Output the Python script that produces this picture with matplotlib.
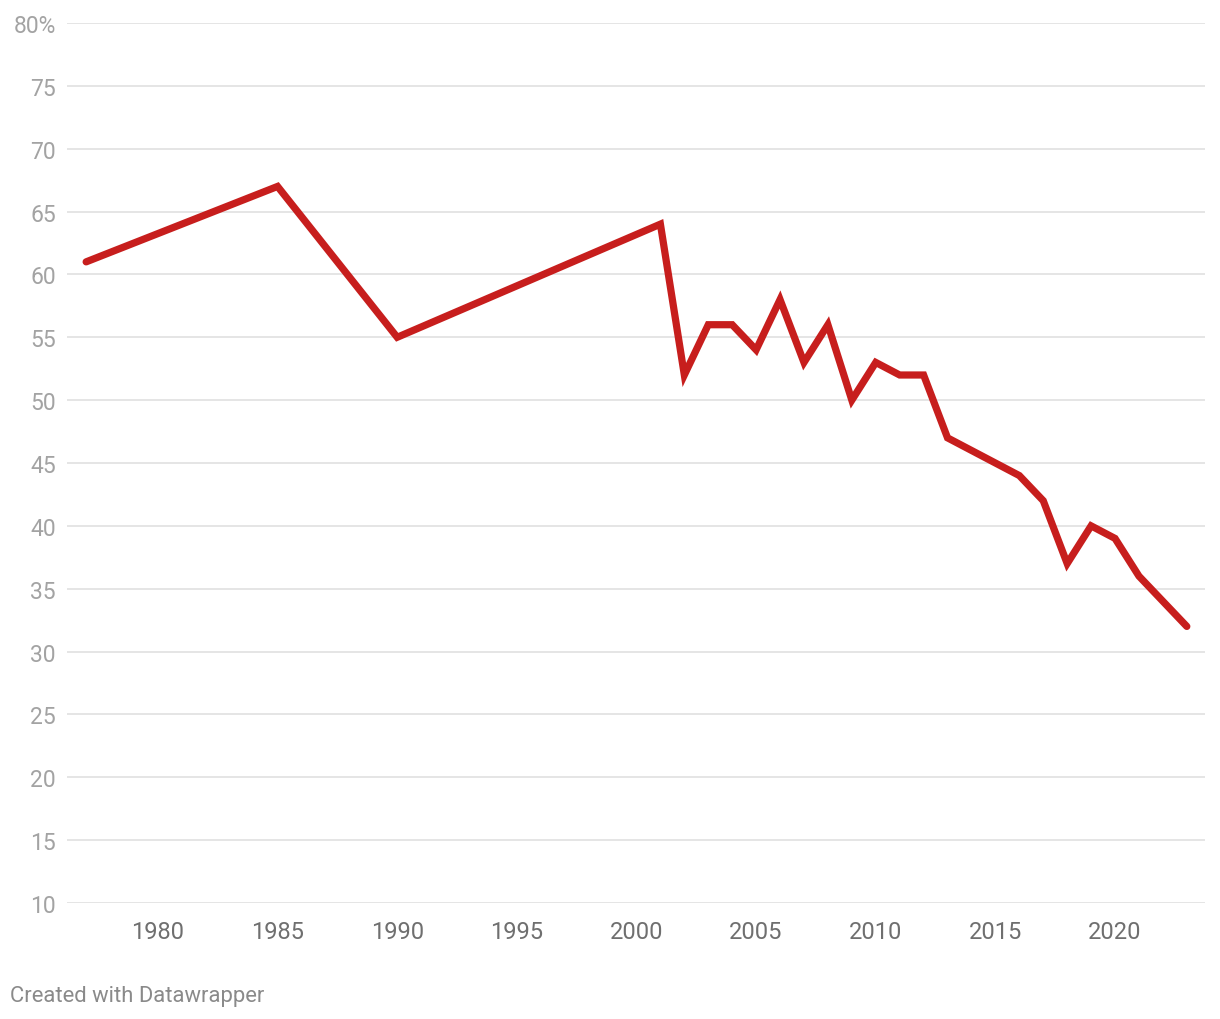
import matplotlib
matplotlib.use("Agg")
import matplotlib.pyplot as plt

years = [1977, 1985, 1990, 2001, 2002, 2003, 2004, 2005, 2006, 2007, 2008, 2009,
         2010, 2011, 2012, 2013, 2016, 2017, 2018, 2019, 2020, 2021, 2023]
values = [61, 67, 55, 64, 52, 56, 56, 54, 58, 53, 56, 50,
          53, 52, 52, 47, 44, 42, 37, 40, 39, 36, 32]
x_ticks = [1980, 1985, 1990, 1995, 2000, 2005, 2010, 2015, 2020]
y_ticks = [10, 15, 20, 25, 30, 35, 40, 45, 50, 55, 60, 65, 70, 75, 80]
y_labels = [str(v) for v in y_ticks[:-1]] + ["80%"]

plt.rcParams['font.family'] = ['Roboto', 'DejaVu Sans']

fig = plt.figure(figsize=(12.2, 10.2), dpi=100)
ax = fig.add_axes([67/1220, 1 - 904/1020, (1205-67)/1220, (904-24)/1020])

ax.plot(years, values, color="#c71e1d", lw=5.2, solid_joinstyle="miter",
        solid_capstyle="round", zorder=3)

ax.set_xlim(1976.2, 2023.76)
ax.set_ylim(10, 80)
ax.set_yticks(y_ticks)
ax.set_yticklabels(y_labels)
ax.set_xticks(x_ticks)
ax.set_xticklabels([str(v) for v in x_ticks])

ax.grid(axis="y", color="#e3e3e3", lw=1.3)
ax.grid(axis="x", visible=False)
for s in ax.spines.values():
    s.set_visible(False)
ax.tick_params(axis="y", length=0, pad=8, labelsize=16.5, labelcolor="#a3a3a3")
ax.tick_params(axis="x", length=0, pad=12, labelsize=17, labelcolor="#6f6f6f")
for lbl in ax.get_yticklabels():
    lbl.set_verticalalignment("center_baseline")

fig.text(10/1220, 1 - 997/1020, "Created with Datawrapper", fontsize=15.8,
         color="#8a8a8a", va="center", ha="left")

fig.savefig("out.png", dpi=100, facecolor="white")
